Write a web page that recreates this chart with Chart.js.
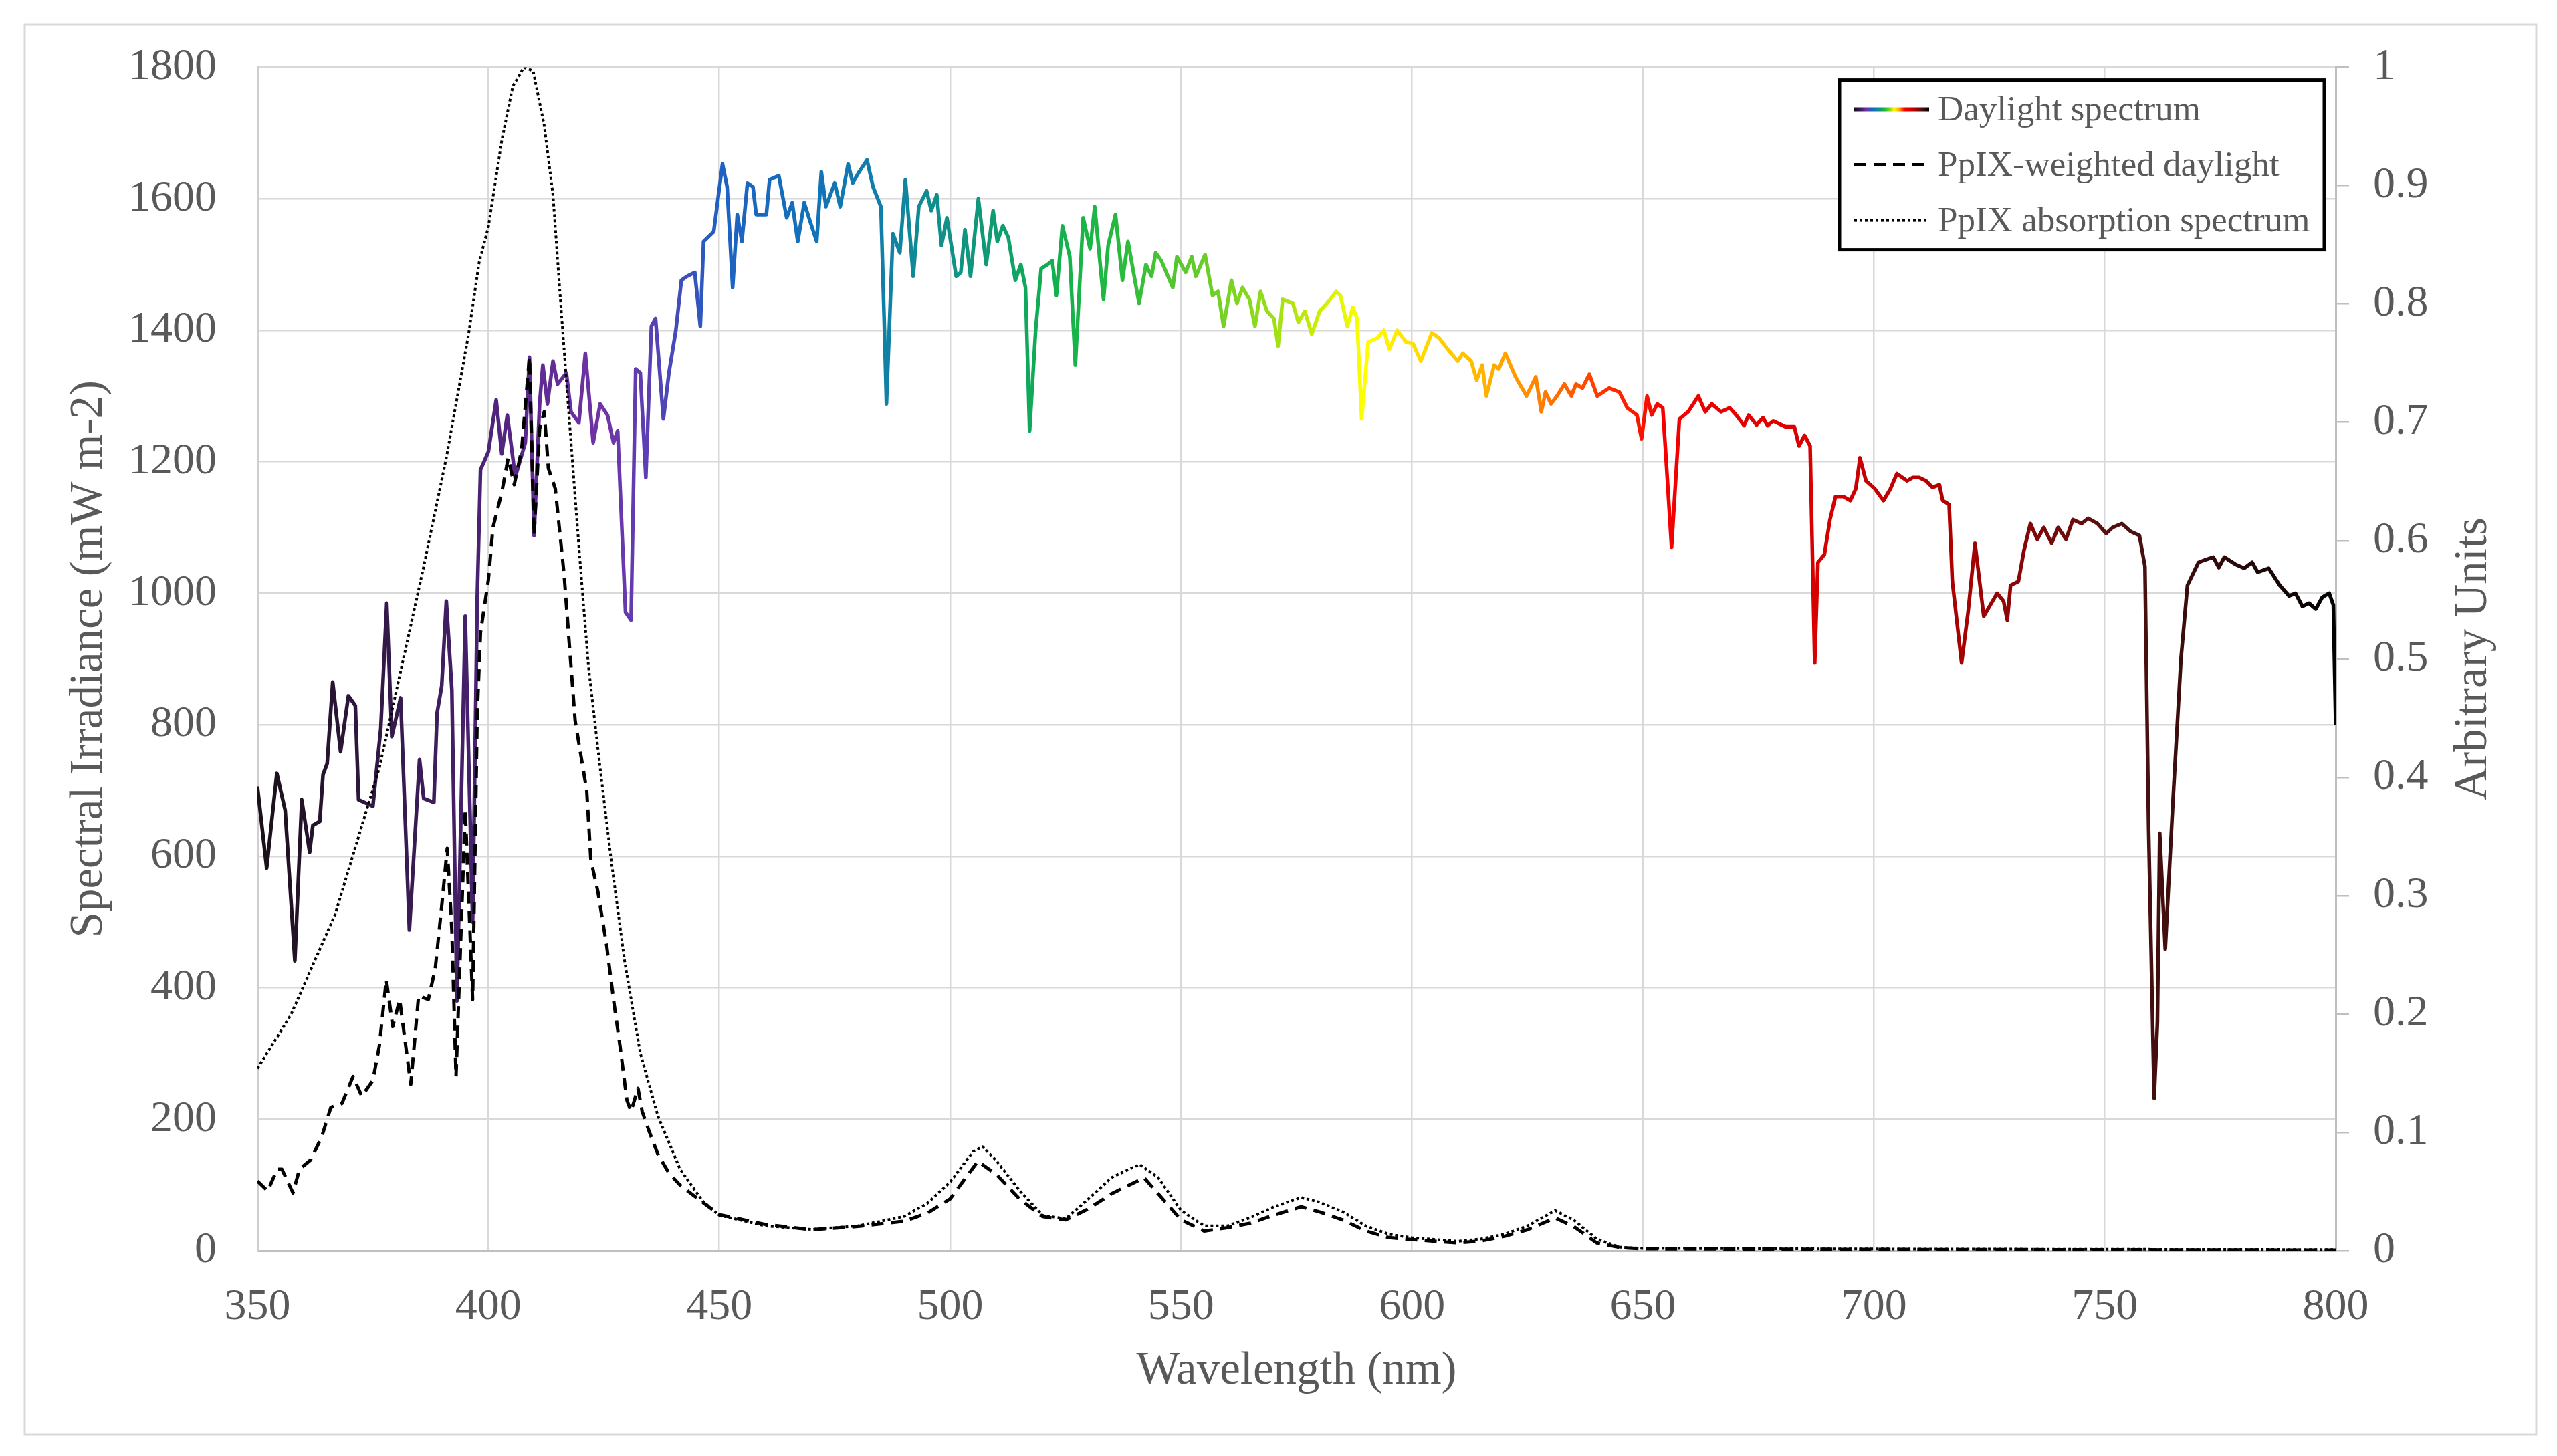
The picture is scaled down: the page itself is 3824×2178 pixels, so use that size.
<!DOCTYPE html>
<html>
<head>
<meta charset="utf-8">
<script src="https://cdn.jsdelivr.net/npm/chart.js@4.4.1/dist/chart.umd.min.js"></script>
<style>
  html, body { margin: 0; padding: 0; background: #fff; }
  canvas { display: block; }
</style>
</head>
<body>
<canvas id="chart" width="3824" height="2178"></canvas>
<script>
// Daylight spectrum (mW m-2)
const daylightNm = [
  350, 352, 354.2, 356, 358.1, 359.6, 361.3, 362, 363.5, 364.2, 365.1, 366.3, 368, 369.7, 371.2, 371.9,
  375, 376.7, 378, 379.1, 381, 382.9, 385.1, 386, 388.2, 388.9, 389.9, 390.9, 392.1, 393.2, 395, 396.6,
  397.6, 398.3, 400, 401.7, 402.9, 404.1, 405.3, 405.8, 408, 408.9, 409.9, 411.1, 411.8, 412.8, 414, 415,
  416.9, 417.9, 419.6, 421, 422.7, 424.2, 425.8, 427.1, 428, 429.7, 430.9, 431.9, 432.9, 434.1, 435.3, 436.2,
  437.9, 439.1, 440.6, 441.8, 443, 444.7, 445.9, 446.6, 448.8, 450.7, 451.7, 452.9, 453.9, 454.9, 456.1, 457.3,
  458, 460.2, 460.9, 462.9, 464.6, 465.8, 467, 468.4, 469.7, 471.1, 472.1, 473.1, 475, 476.2, 477.9, 478.9,
  480.3, 482, 483.3, 485, 485.7, 486.2, 487.6, 489.1, 490.3, 492, 493.2, 494.9, 495.9, 497.1, 498.1, 499.3,
  501.3, 502.3, 503.2, 504.4, 506.1, 507.8, 509.3, 510.2, 511.4, 512.6, 514.1, 515.3, 516.3, 517.2, 518.5, 519.7,
  521.1, 522.1, 523, 524.3, 525.9, 527.1, 528.8, 530.3, 531.3, 533.2, 534.2, 535.8, 537.3, 538.5, 540.9, 542.4,
  543.6, 544.5, 545.7, 548.2, 549.1, 551, 552.3, 553.2, 555.2, 556.8, 558, 559.2, 560.9, 562.1, 563.3, 564.8,
  566, 567.2, 568.6, 570.1, 571, 572, 574.2, 575.4, 576.8, 578.3, 580, 581.6, 583.6, 584.5, 586, 587.2,
  588.1, 589.1, 590.5, 592.5, 593.9, 595.1, 596.8, 598.7, 600.2, 601.9, 604.3, 605.9, 607.2, 609.9, 611, 612.8,
  614, 615.2, 616.1, 617.8, 618.8, 620.2, 622.4, 624.8, 626.8, 628, 628.9, 630.1, 631.4, 633, 634.5, 635.5,
  636.9, 638.4, 640.1, 642.7, 644.9, 646.6, 648.7, 649.7, 650.9, 651.9, 653.1, 654.3, 655, 656.2, 657.9, 659.8,
  662, 663.5, 664.9, 666.9, 668.8, 670.2, 671.9, 672.9, 674.6, 676, 677, 678.2, 680.9, 682.8, 683.8, 685,
  686.2, 687.2, 687.9, 689.3, 690.5, 691.7, 693.4, 694.9, 696.1, 697, 698.3, 700.2, 702.1, 703.6, 705, 707.2,
  708.4, 709.8, 711.3, 712.7, 714.2, 714.9, 716.3, 717, 719, 720.4, 721.9, 723.8, 726.7, 728.1, 728.9, 729.6,
  731.3, 732.5, 733.9, 735.4, 736.8, 738.5, 739.9, 741.6, 743.1, 745, 746.4, 748.4, 750.3, 751.7, 753.7, 755.6,
  757.5, 758.7, 759.5, 760.7, 761.4, 761.9, 763.1, 764.8, 766.5, 767.9, 770.3, 771.8, 773.5, 774.7, 775.9, 778.3,
  780.2, 781.9, 783.1, 785.5, 787.9, 789.9, 791.3, 792.8, 794.2, 795.7, 797.1, 798.6, 799.5, 800
];
const daylightVal = [
  706, 582, 726, 670, 441, 686, 606, 647, 653, 724, 741, 865, 759, 844, 829, 686,
  676, 794, 985, 782, 841, 488, 747, 688, 682, 818, 859, 988, 853, 380, 965, 500,
  994, 1188, 1215, 1294, 1212, 1271, 1206, 1176, 1229, 1359, 1088, 1288, 1347, 1288, 1353, 1318,
  1335, 1276, 1259, 1365, 1229, 1288, 1271, 1229, 1247, 971, 959, 1341, 1335, 1176, 1406, 1418,
  1265, 1335, 1400, 1476, 1482, 1488, 1406, 1535, 1550, 1653, 1618, 1465, 1576, 1535, 1624, 1618,
  1576, 1576, 1629, 1635, 1571, 1594, 1535, 1594, 1565, 1535, 1641, 1588, 1624, 1588, 1653, 1624,
  1641, 1659, 1618, 1588, 1418, 1288, 1547, 1518, 1629, 1482, 1588, 1612, 1582, 1606, 1529, 1571,
  1482, 1488, 1553, 1482, 1600, 1500, 1582, 1535, 1559, 1541, 1476, 1500, 1465, 1247, 1400, 1494,
  1500, 1506, 1453, 1559, 1512, 1347, 1571, 1524, 1588, 1447, 1529, 1576, 1476, 1535, 1441, 1500,
  1482, 1518, 1506, 1465, 1512, 1488, 1512, 1482, 1515, 1453, 1459, 1406, 1476, 1441, 1465, 1447,
  1406, 1459, 1429, 1418, 1376, 1447, 1441, 1412, 1429, 1394, 1429, 1441, 1459, 1453, 1406, 1435,
  1418, 1265, 1382, 1388, 1400, 1371, 1400, 1382, 1380, 1353, 1396, 1388, 1376, 1353, 1365, 1353,
  1324, 1347, 1300, 1347, 1341, 1365, 1329, 1300, 1329, 1276, 1306, 1288, 1300, 1318, 1300, 1318,
  1312, 1333, 1300, 1312, 1306, 1282, 1271, 1235, 1300, 1271, 1288, 1282, 1206, 1070, 1265, 1276,
  1300, 1276, 1288, 1276, 1282, 1271, 1255, 1271, 1256, 1267, 1255, 1262, 1253, 1253, 1224, 1240,
  1224, 894, 1047, 1059, 1112, 1147, 1147, 1141, 1159, 1206, 1171, 1159, 1141, 1159, 1182, 1171,
  1176, 1176, 1171, 1161, 1165, 1141, 1135, 1018, 894, 971, 1076, 965, 1000, 988, 959, 1012,
  1018, 1065, 1106, 1082, 1100, 1076, 1100, 1082, 1112, 1106, 1114, 1106, 1091, 1100, 1106, 1094,
  1088, 1041, 641, 232, 347, 635, 459, 688, 900, 1012, 1047, 1051, 1055, 1039, 1055, 1044,
  1038, 1047, 1032, 1038, 1012, 996, 1000, 980, 985, 976, 994, 1000, 982, 800
];

// PpIX-weighted daylight (mW m-2)
const weightedNm = [
  350, 352.2, 354.3, 355.3, 357.7, 359.1, 361.5, 363.9, 365.9, 368.3, 370.7, 372.6, 375, 376.4, 377.9, 379.3,
  380.8, 383.2, 384.9, 387, 388.5, 389.9, 391.1, 392.1, 393, 395, 396.6, 397.6, 398.3, 400, 401, 402.9,
  404.3, 405.6, 407.2, 408.9, 409.9, 411.1, 412.1, 413, 414.5, 416.4, 417.4, 418.8, 421.3, 422.2, 423.7, 425.6,
  427.1, 428.5, 430, 430.9, 432.4, 433.3, 434.8, 436.7, 439.1, 441.5, 445.4, 450, 460, 470,
  480, 490, 495, 500, 506, 510, 515, 520, 525, 530, 535, 542, 545, 550, 555, 560,
  565, 570, 576, 580, 585, 590, 595, 600, 610, 615, 620, 625, 631, 635, 640, 645,
  650, 700, 800
];
const weightedVal = [
  106, 91, 124, 124, 88, 124, 138, 173, 218, 224, 265, 235, 259, 312, 412, 341,
  382, 253, 388, 382, 429, 524, 612, 488, 265, 671, 382, 818, 940, 1020, 1100, 1153,
  1206, 1165, 1218, 1359, 1088, 1250, 1276, 1190, 1159, 1029, 935, 806, 700, 594, 547, 465,
  382, 312, 229, 212, 247, 212, 182, 147, 118, 100, 79, 55, 40, 32,
  37, 45, 57, 79, 136, 116, 79, 52, 47, 64, 87, 111, 87, 47, 30, 35,
  42, 54, 67, 59, 47, 30, 20, 17, 12, 15, 22, 32, 50, 37, 12, 5,
  3, 2, 1
];

// PpIX absorption spectrum (arbitrary units, right axis)
const absorbNm = [
  350, 357.2, 366.8, 376.4, 381.2, 386, 390.9, 395.7, 398, 400, 402.9, 405.3, 407.7, 409.7, 412.1, 414,
  415.9, 417.9, 419.8, 421.7, 424.2, 426.6, 429.5, 432.9, 436.7, 441.5, 446.4, 450, 460, 470, 480, 490,
  495, 500, 505, 507, 510, 515, 520, 525, 530, 535, 541, 545, 550, 555, 560, 565,
  570, 576, 580, 585, 590, 595, 600, 610, 615, 620, 625, 631, 635, 640, 645, 650,
  700, 800
];
const absorbVal = [
  0.154, 0.199, 0.284, 0.408, 0.493, 0.578, 0.670, 0.774, 0.835, 0.865, 0.938, 0.984, 1.0, 0.997, 0.951, 0.892,
  0.788, 0.683, 0.585, 0.493, 0.408, 0.330, 0.245, 0.167, 0.114, 0.069, 0.042, 0.030, 0.021, 0.018, 0.021, 0.029,
  0.040, 0.058, 0.084, 0.088, 0.076, 0.051, 0.030, 0.027, 0.044, 0.062, 0.073, 0.062, 0.034, 0.021, 0.021, 0.028,
  0.037, 0.045, 0.041, 0.033, 0.021, 0.014, 0.011, 0.008, 0.010, 0.014, 0.021, 0.034, 0.026, 0.010, 0.003, 0.002,
  0.0015, 0.001
];

const xTicks = [350, 400, 450, 500, 550, 600, 650, 700, 750, 800];

// colour ramp used for the daylight line
const spectrumStops = [350, 365, 380, 395, 410, 425, 435, 450, 470, 485, 495, 510, 520, 535, 550, 565, 578, 590, 600, 612, 622, 632, 642, 655, 690, 715, 735, 755, 775, 800];
const spectrumColors = ['#1a1018', '#271430', '#351a4c', '#45206a', '#5e2a90', '#7034a6', '#5a40b4', '#2060c2', '#1272b8', '#107fa8', '#108c92', '#109c72', '#10ae52', '#22b840', '#58c82e', '#88d81c', '#c4ea08', '#ffff00', '#ffe000', '#ffc000', '#ff9c00', '#ff6a00', '#ff3000', '#f40000', '#d40000', '#b00000', '#800808', '#4e1010', '#2e0a0a', '#000000'];

const TEXT = '#595959';
const GRID = '#d9d9d9';
const SERIF = "'Liberation Serif', 'Times New Roman', serif";

function toPoints(xs, ys) {
  return xs.map((x, i) => ({ x: x, y: ys[i] }));
}

function spectrumGradient(c, x0, x1, a, b) {
  const g = c.createLinearGradient(x0, 0, x1, 0);
  spectrumStops.forEach((nm, i) => g.addColorStop((nm - a) / (b - a), spectrumColors[i]));
  return g;
}

function daylightColor(context) {
  const chart = context.chart;
  if (!chart.chartArea) return '#000';
  const x = chart.scales.x;
  return spectrumGradient(chart.ctx, x.getPixelForValue(350), x.getPixelForValue(800), 350, 800);
}

// white page with the thin grey frame
const framePlugin = {
  id: 'frame',
  beforeDraw(chart) {
    const c = chart.ctx;
    c.save();
    c.fillStyle = '#fff';
    c.fillRect(0, 0, chart.width, chart.height);
    c.strokeStyle = GRID;
    c.lineWidth = 3;
    c.strokeRect(37, 37, 3756, 2109);
    c.restore();
  }
};

// right axis title reads bottom-to-top, like the left one
const rightTitlePlugin = {
  id: 'rightTitle',
  afterDraw(chart) {
    const c = chart.ctx;
    const area = chart.chartArea;
    c.save();
    c.translate(3700, (area.top + area.bottom) / 2);
    c.rotate(-Math.PI / 2);
    c.fillStyle = TEXT;
    c.font = '69px ' + SERIF;
    c.textAlign = 'center';
    c.textBaseline = 'middle';
    c.fillText('Arbitrary Units', 0, 0);
    c.restore();
  }
};

// boxed legend in the top right corner of the plot
const legendPlugin = {
  id: 'boxLegend',
  afterDraw(chart) {
    const c = chart.ctx;
    const area = chart.chartArea;
    const w = 725, h = 254;
    const left = area.right - 17 - w;
    const top = area.top + 19;
    c.save();
    c.fillStyle = '#fff';
    c.fillRect(left, top, w, h);
    c.strokeStyle = '#000';
    c.lineWidth = 5;
    c.strokeRect(left, top, w, h);

    const rows = [
      { text: 'Daylight spectrum', dash: [], width: 6 },
      { text: 'PpIX-weighted daylight', dash: [18, 11], width: 5 },
      { text: 'PpIX absorption spectrum', dash: [4, 4], width: 4 }
    ];
    const lx0 = left + 22, lx1 = left + 134;
    rows.forEach((r, i) => {
      const y = top + 44 + i * 83;
      c.beginPath();
      c.setLineDash(r.dash);
      c.lineWidth = r.width;
      c.strokeStyle = i === 0 ? spectrumGradient(c, lx0, lx1, 350, 800) : '#000';
      c.moveTo(lx0, y);
      c.lineTo(lx1, y);
      c.stroke();
      c.setLineDash([]);
      c.fillStyle = TEXT;
      c.font = '53px ' + SERIF;
      c.textBaseline = 'middle';
      c.textAlign = 'left';
      c.fillText(r.text, left + 147, y + 2);
    });
    c.restore();
  }
};

new Chart(document.getElementById('chart'), {
  type: 'line',
  data: {
    datasets: [
      {
        label: 'PpIX-weighted daylight',
        data: toPoints(weightedNm, weightedVal),
        yAxisID: 'y',
        borderColor: '#000',
        borderWidth: 5,
        borderDash: [18, 11],
        order: 0
      },
      {
        label: 'PpIX absorption spectrum',
        data: toPoints(absorbNm, absorbVal),
        yAxisID: 'y1',
        borderColor: '#000',
        borderWidth: 4,
        borderDash: [4, 4],
        order: 1
      },
      {
        label: 'Daylight spectrum',
        data: toPoints(daylightNm, daylightVal),
        yAxisID: 'y',
        borderColor: daylightColor,
        borderWidth: 5.5,
        order: 2
      }
    ]
  },
  options: {
    responsive: false,
    animation: false,
    devicePixelRatio: 1,
    layout: { padding: { top: 98, left: 0, right: 0, bottom: 0 } },
    elements: {
      point: { radius: 0 },
      line: { tension: 0, borderJoinStyle: 'round', fill: false }
    },
    plugins: {
      legend: { display: false },
      tooltip: { enabled: false }
    },
    scales: {
      x: {
        type: 'linear',
        min: 350,
        max: 800,
        afterBuildTicks: s => { s.ticks = xTicks.map(v => ({ value: v })); },
        ticks: { color: TEXT, font: { family: SERIF, size: 66 }, padding: 45, callback: v => String(v) },
        grid: { color: GRID, lineWidth: 2.5, drawTicks: false },
        border: { color: '#bfbfbf', width: 3 },
        title: { display: true, text: 'Wavelength (nm)', color: TEXT, font: { family: SERIF, size: 69 }, padding: { top: 0, bottom: 85 } },
        afterFit: s => { s.height = 307; }
      },
      y: {
        position: 'left',
        min: 0,
        max: 1800,
        ticks: { stepSize: 200, color: TEXT, font: { family: SERIF, size: 66 }, padding: 61, callback: v => String(v) },
        grid: { color: GRID, lineWidth: 2.5, drawTicks: false },
        border: { color: '#cfcfcf', width: 3 },
        title: { display: true, text: 'Spectral Irradiance (mW m-2)', color: TEXT, font: { family: SERIF, size: 69 }, padding: { top: 92, bottom: 0 } },
        afterFit: s => { s.width = 385; }
      },
      y1: {
        position: 'right',
        min: 0,
        max: 1,
        ticks: { stepSize: 0.1, color: TEXT, font: { family: SERIF, size: 66 }, padding: 36, callback: v => String(Number(v.toFixed(1))) },
        grid: { drawOnChartArea: false, drawTicks: true, tickLength: 20, color: '#bfbfbf', lineWidth: 2.5 },
        border: { color: '#bfbfbf', width: 3 },
        title: { display: false },
        afterFit: s => { s.width = 331; }
      }
    }
  },
  plugins: [framePlugin, rightTitlePlugin, legendPlugin]
});
</script>
</body>
</html>
